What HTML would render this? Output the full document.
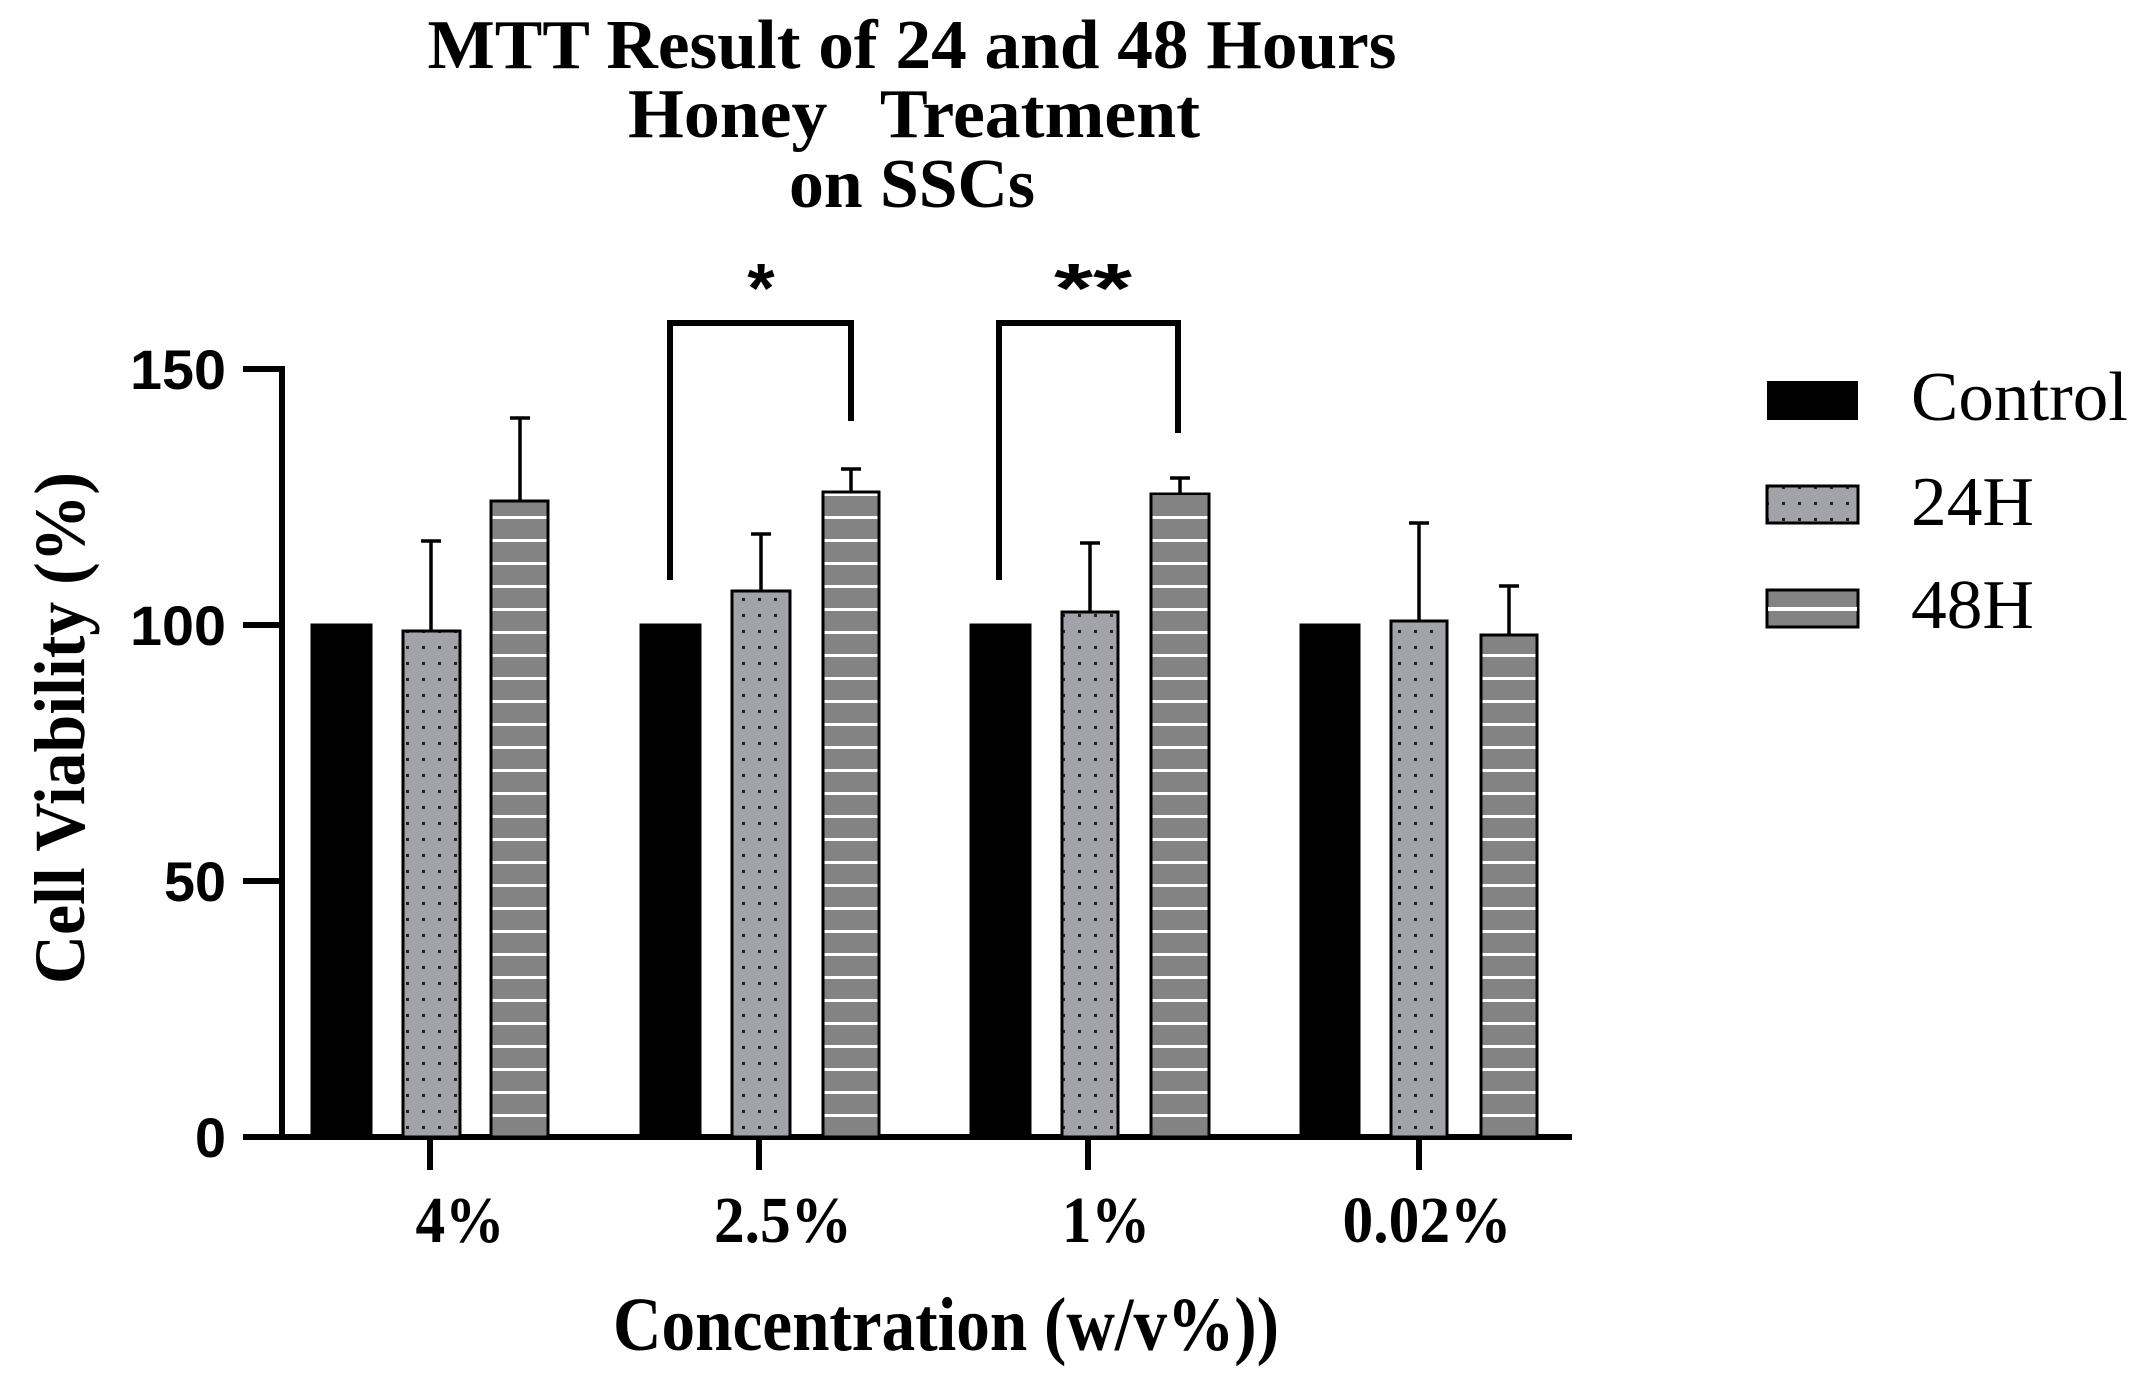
<!DOCTYPE html>
<html><head><meta charset="utf-8"><style>html,body{margin:0;padding:0;background:#fff}svg{display:block}</style></head>
<body>
<svg width="2142" height="1379" viewBox="0 0 2142 1379" xmlns="http://www.w3.org/2000/svg">
<defs>
<pattern id="dots" patternUnits="userSpaceOnUse" width="16" height="16">
<rect width="16" height="16" fill="#a2a2aa"/><rect x="6" y="6" width="3" height="3" fill="#222"/>
</pattern>
<pattern id="lines" patternUnits="userSpaceOnUse" width="20" height="23">
<rect width="20" height="23" fill="#838383"/><rect y="10" width="20" height="3" fill="#fff"/>
</pattern>
</defs>
<g font-family="Liberation Serif, serif" font-weight="bold" fill="#000">
<text x="912" y="68" font-size="70" text-anchor="middle" textLength="969" lengthAdjust="spacingAndGlyphs">MTT Result of 24 and 48 Hours</text>
<text x="914" y="137" font-size="70" text-anchor="middle" textLength="572" lengthAdjust="spacingAndGlyphs" xml:space="preserve">Honey   Treatment</text>
<text x="912" y="207" font-size="70" text-anchor="middle" textLength="246" lengthAdjust="spacingAndGlyphs">on SSCs</text>
<text transform="translate(84,728) rotate(-90)" font-size="72" text-anchor="middle" textLength="512" lengthAdjust="spacingAndGlyphs">Cell Viability (%)</text>
<text x="460" y="1242" font-size="66" text-anchor="middle" textLength="89" lengthAdjust="spacingAndGlyphs">4%</text>
<text x="783" y="1242" font-size="66" text-anchor="middle" textLength="138" lengthAdjust="spacingAndGlyphs">2.5%</text>
<text x="1106" y="1242" font-size="66" text-anchor="middle" textLength="88" lengthAdjust="spacingAndGlyphs">1%</text>
<text x="1427" y="1242" font-size="66" text-anchor="middle" textLength="169" lengthAdjust="spacingAndGlyphs">0.02%</text>
<text x="946" y="1350" font-size="76" text-anchor="middle" textLength="666" lengthAdjust="spacingAndGlyphs">Concentration (w/v%))</text>
</g>
<g font-family="Liberation Sans, sans-serif" font-weight="bold" font-size="56" text-anchor="end">
<text x="226" y="389" textLength="96" lengthAdjust="spacingAndGlyphs">150</text>
<text x="226" y="645" textLength="96" lengthAdjust="spacingAndGlyphs">100</text>
<text x="226" y="901" textLength="62" lengthAdjust="spacingAndGlyphs">50</text>
<text x="226" y="1157" textLength="31" lengthAdjust="spacingAndGlyphs">0</text>
<text x="761" y="312" font-size="70" text-anchor="middle">*</text>
<text x="1093" y="312" font-size="70" text-anchor="middle" textLength="78" lengthAdjust="spacingAndGlyphs">**</text>
</g>
<g stroke="#000" stroke-width="6" fill="none">
<line x1="282" y1="366" x2="282" y2="1140"/>
<line x1="243" y1="1137" x2="1572" y2="1137"/>
<line x1="243" y1="369" x2="282" y2="369"/>
<line x1="243" y1="625" x2="282" y2="625"/>
<line x1="243" y1="881" x2="282" y2="881"/>
<line x1="430" y1="1137" x2="430" y2="1170"/>
<line x1="759" y1="1137" x2="759" y2="1170"/>
<line x1="1088" y1="1137" x2="1088" y2="1170"/>
<line x1="1419" y1="1137" x2="1419" y2="1170"/>
<polyline points="670,580 670,323 851,323 851,421"/>
<polyline points="999,580 999,323 1178,323 1178,433"/>
</g>
<g stroke="#000" stroke-width="3">
<rect x="312" y="625" width="59" height="512" fill="#000"/>
<rect x="641" y="625" width="59" height="512" fill="#000"/>
<rect x="971" y="625" width="59" height="512" fill="#000"/>
<rect x="1301" y="625" width="58" height="512" fill="#000"/>
<rect x="403" y="631" width="57" height="506" fill="url(#dots)"/>
<rect x="732" y="591" width="58" height="546" fill="url(#dots)"/>
<rect x="1062" y="612" width="56" height="525" fill="url(#dots)"/>
<rect x="1391" y="621" width="56" height="516" fill="url(#dots)"/>
<rect x="491" y="501" width="57" height="636" fill="url(#lines)"/>
<rect x="823" y="492" width="56" height="645" fill="url(#lines)"/>
<rect x="1151" y="494" width="58" height="643" fill="url(#lines)"/>
<rect x="1481" y="635" width="56" height="502" fill="url(#lines)"/>
</g>
<g stroke="#000" stroke-width="3.5">
<line x1="431" y1="631" x2="431" y2="541"/><line x1="421" y1="541" x2="441" y2="541"/>
<line x1="520" y1="501" x2="520" y2="418"/><line x1="510" y1="418" x2="530" y2="418"/>
<line x1="761" y1="591" x2="761" y2="534"/><line x1="751" y1="534" x2="771" y2="534"/>
<line x1="851" y1="492" x2="851" y2="469"/><line x1="841" y1="469" x2="861" y2="469"/>
<line x1="1090" y1="612" x2="1090" y2="543"/><line x1="1080" y1="543" x2="1100" y2="543"/>
<line x1="1180" y1="494" x2="1180" y2="478"/><line x1="1170" y1="478" x2="1190" y2="478"/>
<line x1="1419" y1="621" x2="1419" y2="523"/><line x1="1409" y1="523" x2="1429" y2="523"/>
<line x1="1509" y1="635" x2="1509" y2="586"/><line x1="1499" y1="586" x2="1519" y2="586"/>
</g>
<rect x="1767" y="381" width="91" height="39" fill="#000"/>
<rect x="1767" y="486" width="91" height="37" fill="url(#dots)" stroke="#000" stroke-width="3"/>
<rect x="1767" y="590" width="91" height="37" fill="#838383" stroke="#000" stroke-width="3"/>
<rect x="1768" y="607" width="89" height="4" fill="#fff"/>
<g font-family="Liberation Serif, serif" font-size="70">
<text x="1911" y="420" textLength="217" lengthAdjust="spacingAndGlyphs">Control</text>
<text x="1911" y="525" textLength="123" lengthAdjust="spacingAndGlyphs">24H</text>
<text x="1911" y="628" textLength="123" lengthAdjust="spacingAndGlyphs">48H</text>
</g>
</svg>
</body></html>
